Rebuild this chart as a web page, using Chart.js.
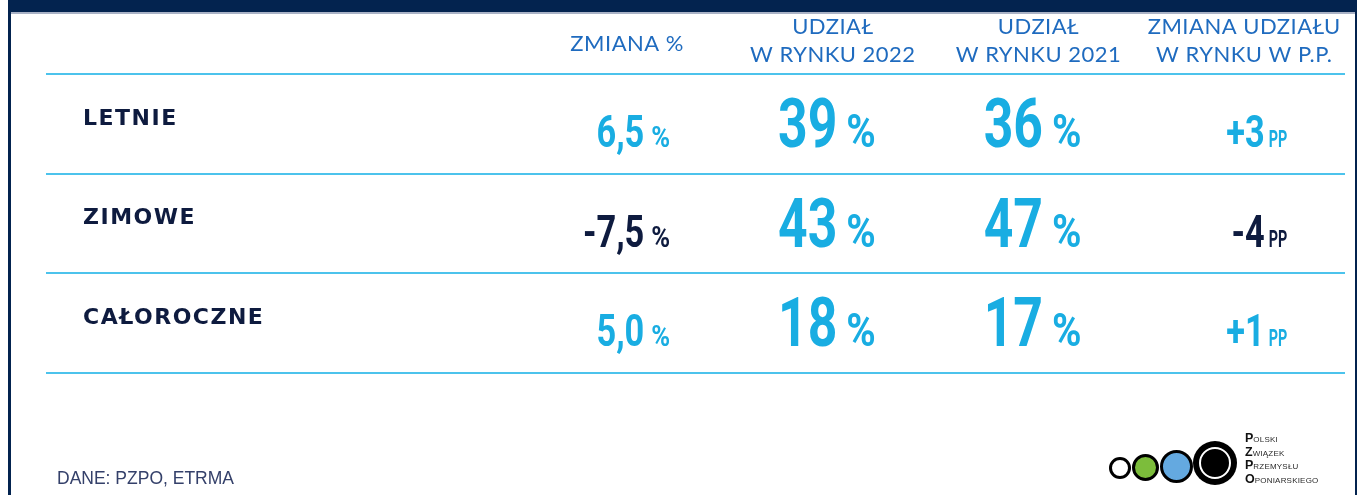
<!DOCTYPE html>
<html><head><meta charset="utf-8">
<script src="https://cdn.jsdelivr.net/npm/chart.js@4.4.0/dist/chart.umd.min.js"></script>
<style>
html,body{margin:0;padding:0;background:#fff;}
#wrap{position:relative;width:1357px;height:495px;overflow:hidden;background:#fff;}
#c{position:absolute;left:0;top:0;}
.topbar{position:absolute;left:8px;top:0;width:1349px;height:12px;background:#03234f;}
.topline{position:absolute;left:11px;top:12px;width:1344px;height:2px;background:#a9b2c6;}
.lb{position:absolute;left:8px;top:0;width:3px;height:495px;background:#03234f;}
.rb{position:absolute;left:1355px;top:0;width:2px;height:495px;background:#03234f;}
.src{position:absolute;left:57px;top:468px;font:17.5px "Liberation Sans",Arial,sans-serif;color:#34406a;white-space:nowrap;}
.circ{position:absolute;box-sizing:border-box;border-radius:50%;}
.lt{position:absolute;left:1245px;font-family:"Liberation Sans",Arial,sans-serif;color:#2a2a2a;white-space:nowrap;line-height:12px;}
.lt b{font-size:12.5px;font-weight:bold;color:#111;}
.lt span{font-size:8px;letter-spacing:0.2px;}
</style></head>
<body>
<div id="wrap">
  <canvas id="c" width="1357" height="495"></canvas>
  <div class="topbar"></div>
  <div class="topline"></div>
  <div class="lb"></div>
  <div class="rb"></div>
  <div class="src">DANE: PZPO, ETRMA</div>
  <div class="circ" style="left:1109px;top:457px;width:22px;height:22px;border:3px solid #000;background:#fff;"></div>
  <div class="circ" style="left:1132px;top:454px;width:27px;height:27px;border:3px solid #000;background:#7cbd3b;"></div>
  <div class="circ" style="left:1160px;top:450px;width:33px;height:33px;border:3px solid #000;background:#64a9e0;"></div>
  <div class="circ" style="left:1193px;top:441px;width:44px;height:44px;background:#000;"></div>
  <div class="circ" style="left:1199px;top:447px;width:32px;height:32px;border:2px solid #fff;background:#000;"></div>
  <div class="lt" style="top:431px"><b>P</b><span>OLSKI</span></div>
  <div class="lt" style="top:445px"><b>Z</b><span>WIĄZEK</span></div>
  <div class="lt" style="top:458px"><b>P</b><span>RZEMYSŁU</span></div>
  <div class="lt" style="top:472px"><b>O</b><span>PONIARSKIEGO</span></div>
</div>
<script>
// ---- data ----
const rowLabels = ['LETNIE', 'ZIMOWE', 'CAŁOROCZNE'];
const columnHeaders = [
  ['ZMIANA %'],
  ['UDZIAŁ', 'W RYNKU 2022'],
  ['UDZIAŁ', 'W RYNKU 2021'],
  ['ZMIANA UDZIAŁU', 'W RYNKU W P.P.']
];
const changePct = [6.5, -7.5, 5.0];
const share2022 = [39, 43, 18];
const share2021 = [36, 47, 17];
const shareChangePP = [3, -4, 1];
const columnUnits = ['%', '%', '%', 'PP'];

// ---- styles ----
const CYAN = '#19ade2';
const NAVY = '#0e1b3f';
const HEADER = '#1f6bbf';
const LINE = '#4cc3ec';

const columns = [changePct, share2022, share2021, shareChangePP];
const fmt = [
  v => v.toFixed(1).replace('.', ','),
  v => String(v),
  v => String(v),
  v => (v > 0 ? '+' : '') + v
];
const big = [false, true, true, false];

const datasets = columns.map((vals, ci) => ({
  label: columnHeaders[ci].join(' '),
  values: vals,
  data: vals.map((v, ri) => ({ x: ci, y: rowLabels[ri] })),
  pointRadius: 0,
  pointHoverRadius: 0,
  showLine: false
}));

function drawCond(ctx, text, rightX, baseY, font, sx, color) {
  ctx.save();
  ctx.font = font;
  ctx.fillStyle = color;
  ctx.textAlign = 'right';
  ctx.textBaseline = 'alphabetic';
  ctx.translate(rightX, baseY);
  ctx.scale(sx, 1);
  ctx.fillText(text, 0, 0);
  const w = ctx.measureText(text).width * sx;
  ctx.restore();
  return w;
}

const textPlugin = {
  id: 'cellText',
  afterDatasetsDraw(chart) {
    const { ctx, chartArea, scales: { x, y } } = chart;
    ctx.save();
    // headers
    ctx.fillStyle = HEADER;
    ctx.font = '22px Lato';
    ctx.textAlign = 'center';
    ctx.textBaseline = 'middle';
    ctx.letterSpacing = '0.5px';
    columnHeaders.forEach((lines, i) => {
      const cx = x.getPixelForValue(i);
      if (lines.length === 1) ctx.fillText(lines[0], cx, chartArea.top - 30);
      else lines.forEach((t, j) => ctx.fillText(t, cx, chartArea.top - 47 + j * 28));
    });
    // row labels
    ctx.font = 'bold 22px "DejaVu Sans"';
    ctx.fillStyle = NAVY;
    ctx.textAlign = 'left';
    ctx.letterSpacing = '1.5px';
    rowLabels.forEach((r, i) => {
      ctx.fillText(r, chartArea.left + 37, y.getPixelForValue(i) - 5);
    });
    ctx.letterSpacing = '0px';
    ctx.restore();
    // cells
    chart.data.datasets.forEach((ds, ci) => {
      const meta = chart.getDatasetMeta(ci);
      meta.data.forEach((pt, ri) => {
        const v = ds.values[ri];
        const color = v < 0 ? NAVY : CYAN;
        const right = pt.x + 43;
        const base = pt.y + 23;
        let uw;
        if (big[ci]) {
          uw = drawCond(ctx, columnUnits[ci], right, base, 'bold 47px Roboto', 0.85, color);
          drawCond(ctx, fmt[ci](v), right - uw - 9, base, 'bold 68px Roboto', 0.76, color);
        } else if (columnUnits[ci] === 'PP') {
          uw = drawCond(ctx, 'PP', right, base, 'bold 24px Roboto', 0.6, color);
          drawCond(ctx, fmt[ci](v), right - uw - 4, base, 'bold 44px Roboto', 0.78, color);
        } else {
          uw = drawCond(ctx, columnUnits[ci], right, base, 'bold 29px Roboto', 0.88, color);
          drawCond(ctx, fmt[ci](v), right - uw - 7, base, 'bold 44px Roboto', 0.78, color);
        }
      });
    });
  }
};

new Chart(document.getElementById('c'), {
  type: 'scatter',
  data: { labels: rowLabels, datasets },
  options: {
    responsive: false,
    animation: false,
    devicePixelRatio: 1,
    layout: { padding: { top: 74, bottom: 122, left: 46, right: 12 } },
    plugins: { legend: { display: false }, tooltip: { enabled: false } },
    events: [],
    scales: {
      x: { type: 'linear', min: -2.8255, max: 3.49, display: false },
      y: {
        type: 'category',
        labels: rowLabels,
        offset: true,
        border: { display: false },
        grid: { offset: true, color: LINE, lineWidth: 2, drawTicks: false },
        ticks: { display: false }
      }
    }
  },
  plugins: [textPlugin]
});
</script>
</body></html>
